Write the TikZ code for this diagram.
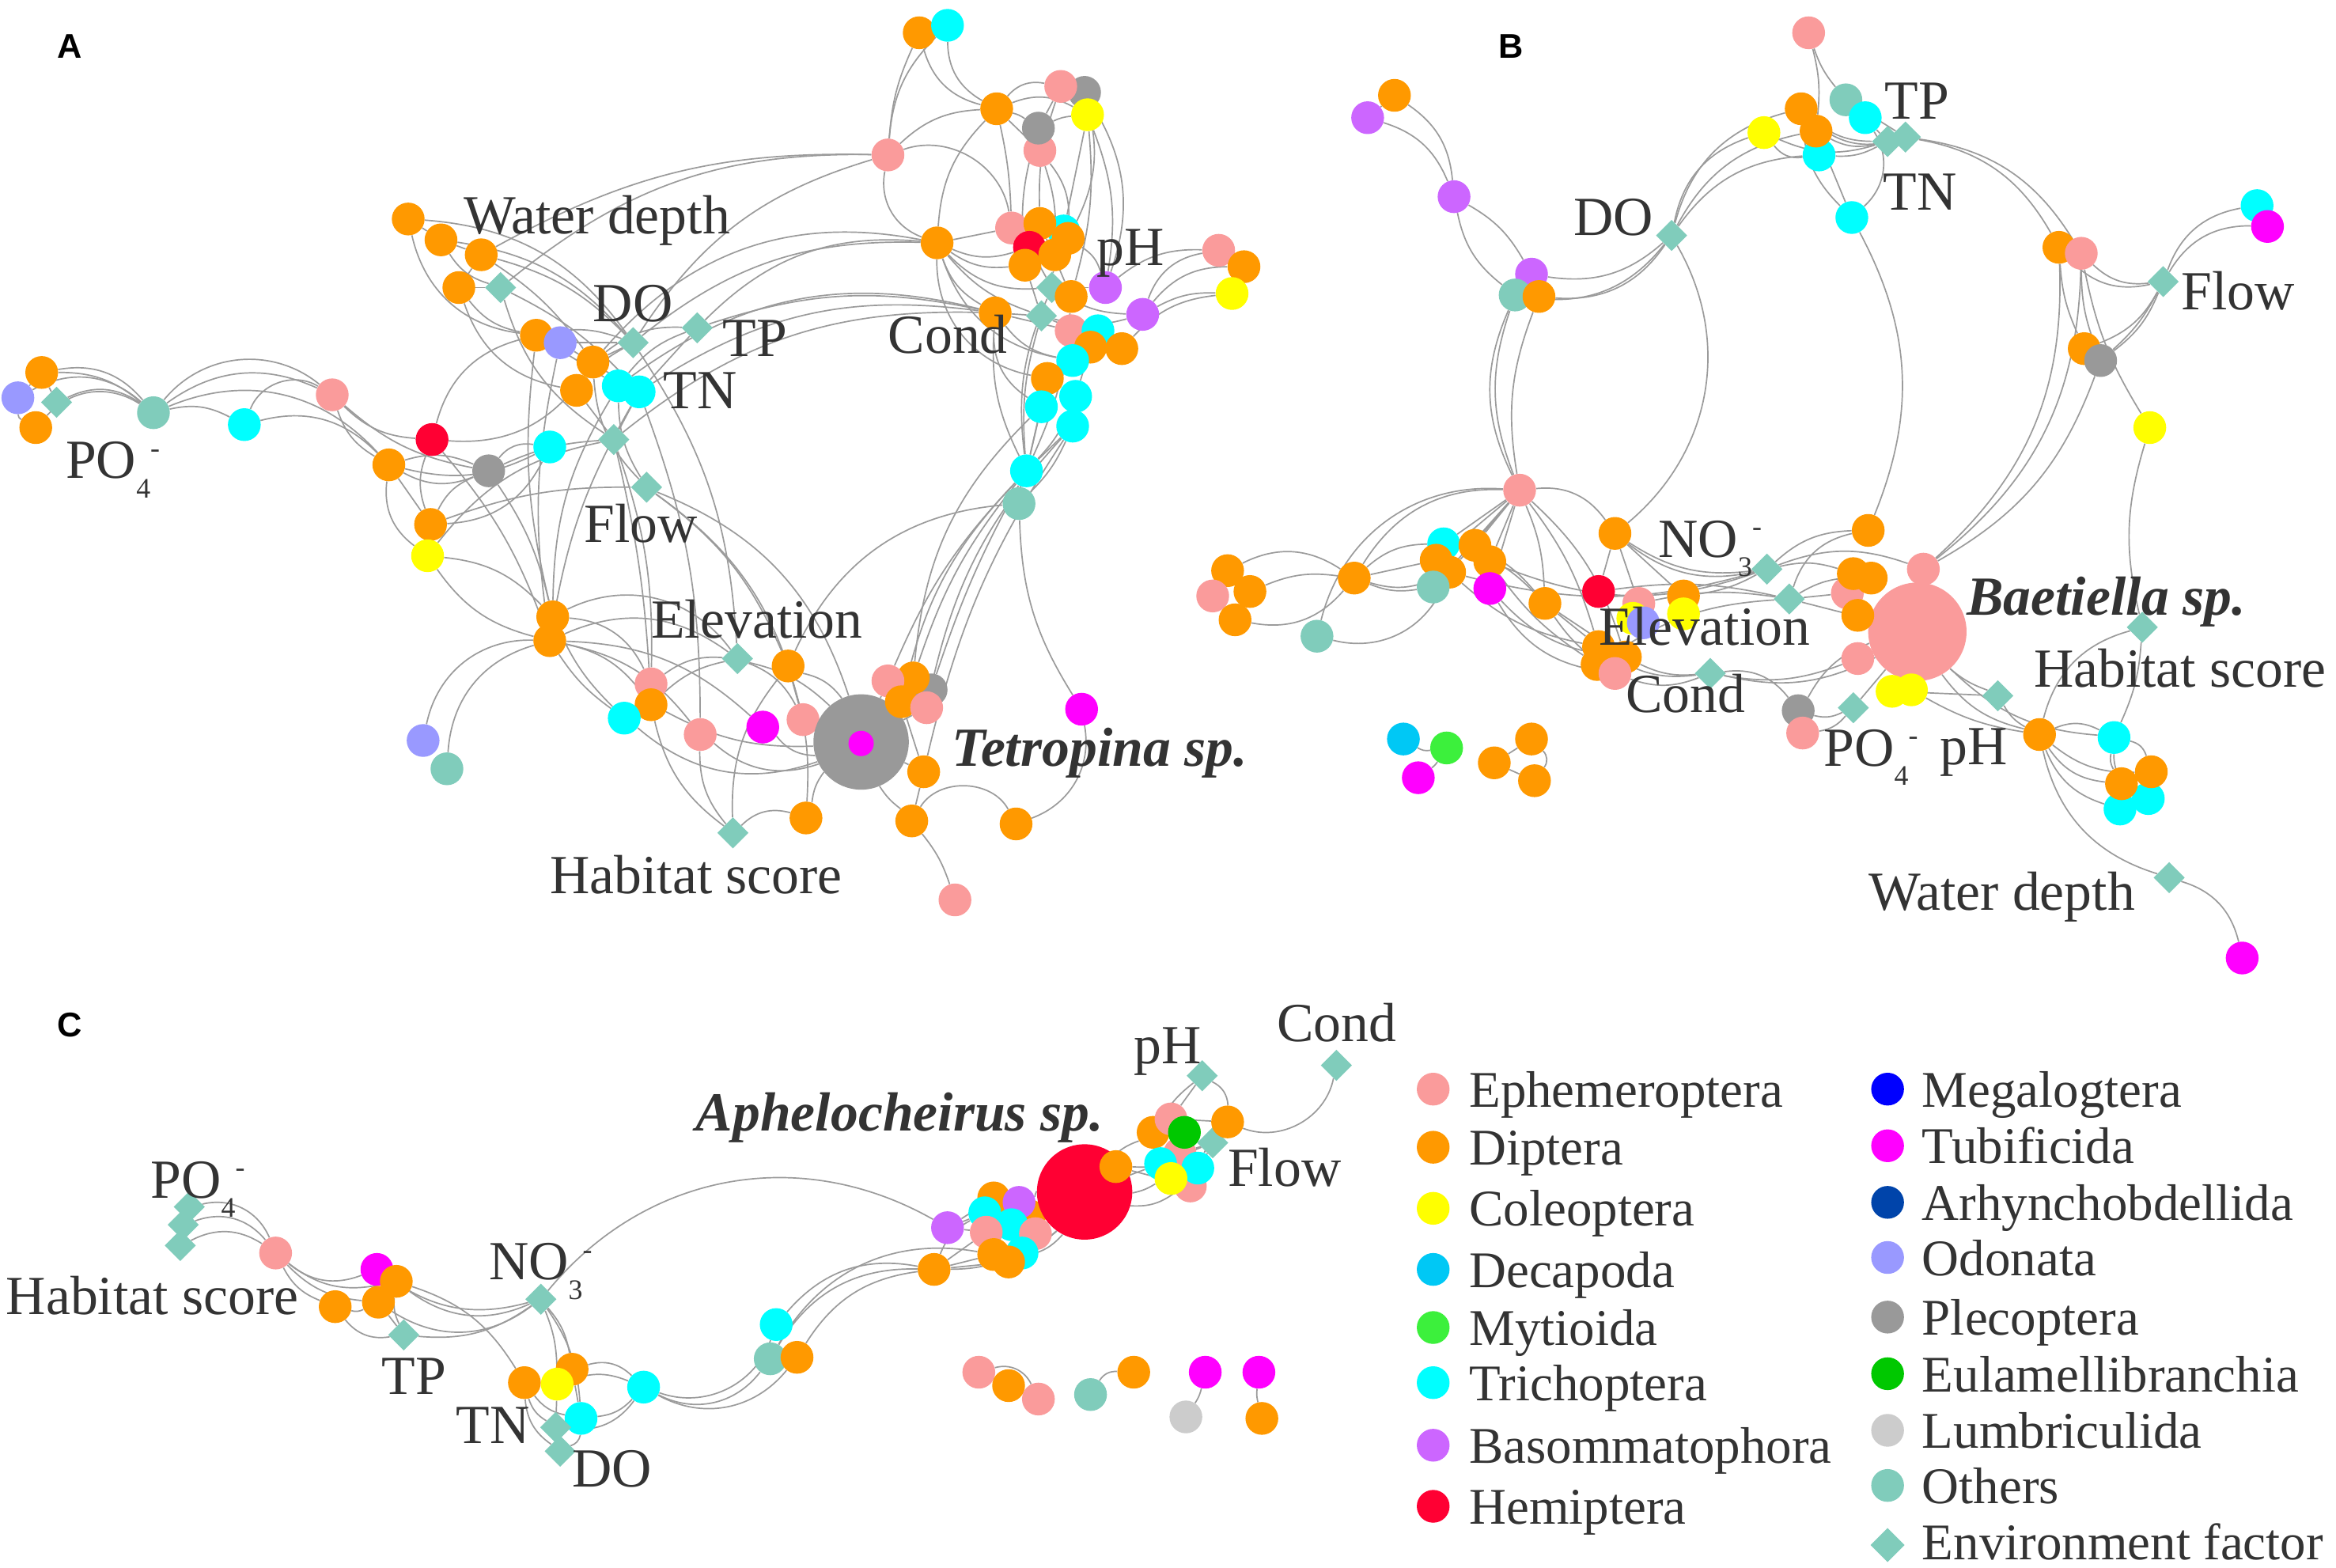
\documentclass[tikz,border=0pt]{standalone}
\usepackage{fontspec}
\setmainfont{Liberation Serif}
\newfontfamily\panelfont{Liberation Sans}
\usetikzlibrary{shapes.geometric}
\definecolor{ceph}{RGB}{250,155,155}
\definecolor{cdip}{RGB}{255,153,0}
\definecolor{ccol}{RGB}{255,255,0}
\definecolor{cdec}{RGB}{0,200,245}
\definecolor{cmyt}{RGB}{60,240,60}
\definecolor{ctri}{RGB}{0,255,255}
\definecolor{cbas}{RGB}{204,102,255}
\definecolor{chem}{RGB}{255,0,51}
\definecolor{cmeg}{RGB}{0,0,255}
\definecolor{ctub}{RGB}{255,0,255}
\definecolor{carh}{RGB}{0,68,170}
\definecolor{codo}{RGB}{153,153,255}
\definecolor{cple}{RGB}{153,153,153}
\definecolor{ceul}{RGB}{0,200,0}
\definecolor{clum}{RGB}{204,204,204}
\definecolor{coth}{RGB}{128,204,187}
\definecolor{edgec}{RGB}{155,155,155}
\definecolor{labc}{RGB}{51,51,51}
\newcommand\labfnt{\fontsize{37}{40}\selectfont}
\newcommand\spfnt{\fontsize{37}{40}\selectfont\bfseries\itshape}
\newcommand\legfnt{\fontsize{34.5}{38}\selectfont}
\newcommand\chsub[1]{\raisebox{-13pt}{\fontsize{19}{19}\selectfont #1}}
\newcommand\chsup[1]{\raisebox{14pt}{\fontsize{19}{19}\selectfont #1}}
\pgfdeclarelayer{edgelayer}
\pgfsetlayers{edgelayer,main}
\tikzset{
  nd/.style={circle,inner sep=0pt,minimum size=22pt,draw=none},
  sEph/.style={nd,fill=ceph}, sDip/.style={nd,fill=cdip}, sCol/.style={nd,fill=ccol},
  sDec/.style={nd,fill=cdec}, sMyt/.style={nd,fill=cmyt}, sTri/.style={nd,fill=ctri},
  sBas/.style={nd,fill=cbas}, sHem/.style={nd,fill=chem}, sMeg/.style={nd,fill=cmeg},
  sTub/.style={nd,fill=ctub}, sArh/.style={nd,fill=carh}, sOdo/.style={nd,fill=codo},
  sPle/.style={nd,fill=cple}, sEul/.style={nd,fill=ceul}, sLum/.style={nd,fill=clum},
  sOth/.style={nd,fill=coth},
  sEnv/.style={diamond,inner sep=0pt,minimum size=21pt,fill=coth,draw=none},
  bigsp/.style={minimum size=64pt},
  lab/.style={font=\labfnt,text=labc,inner sep=0pt,anchor=base west},
  splab/.style={font=\spfnt,text=labc,inner sep=0pt,anchor=base west},
  leg/.style={font=\legfnt,text=labc,inner sep=0pt,anchor=base west},
  panel/.style={font=\panelfont\bfseries\fontsize{23}{23}\selectfont,text=black,inner sep=0pt},
  BL/.style={bend left=#1}, BL/.default=30,
  BR/.style={bend right=#1}, BR/.default=30,
  edges/.style={every edge/.style={draw=edgec,line width=0.9pt}}
}
\begin{document}
\begin{tikzpicture}[x=1pt,y=-1pt]
\useasboundingbox (0,0) rectangle (1568,1052);

% ================= PANEL A =================
\node[panel] (pA) at (47,31) {A};
\node[sDip] (aO1) at (28,250) {};
\node[sOdo] (aOd1) at (12,267) {};
\node[sDip] (aO2) at (24,287) {};
\node[sEnv] (aE1) at (38,270) {};
\node[sOth] (aT1) at (103,277) {};
\node[sTri] (aC1) at (164,285) {};
\node[sEph] (aP1) at (223,265) {};
\node[sHem] (aR1) at (290,295) {};
\node[sDip] (aO3) at (261,312) {};
\node[sPle] (aG1) at (328,316) {};
\node[sTri] (aC2) at (369,300) {};
\node[sDip] (aO4) at (289,352) {};
\node[sCol] (aY1) at (287,373) {};
\node[sDip] (aO5) at (274,147) {};
\node[sDip] (aO6) at (296,161) {};
\node[sDip] (aO7) at (323,171) {};
\node[sDip] (aO8) at (308,193) {};
\node[sEnv] (aEwd) at (336,193) {};
\node[sDip] (aO9) at (360,225) {};
\node[sOdo] (aOd2) at (376,230) {};
\node[sDip] (aO10) at (398,243) {};
\node[sDip] (aO11) at (387,262) {};
\node[sEnv] (aEdo) at (425,230) {};
\node[sTri] (aC3) at (415,259) {};
\node[sTri] (aC4) at (429,263) {};
\node[sEnv] (aEtp) at (468,220) {};
\node[sEnv] (aEtn) at (412,295) {};
\node[sEnv] (aEfl) at (434,327) {};
\node[sDip] (aO12) at (371,414) {};
\node[sDip] (aO13) at (369,430) {};
\node[sOdo] (aOd3) at (284,497) {};
\node[sOth] (aT2) at (300,516) {};
\node[sEnv] (aEel) at (495,442) {};
\node[sDip] (aO14) at (529,447) {};
\node[sEph] (aP2) at (437,459) {};
\node[sDip] (aO15) at (437,473) {};
\node[sTri] (aC5) at (419,482) {};
\node[sEph] (aP3) at (470,493) {};
\node[sTub] (aM1) at (512,488) {};
\node[sEph] (aP4) at (539,483) {};
\node[sPle,bigsp] (aBig) at (578,498) {};
\node[sTub,minimum size=17pt] (aMin) at (578,499) {};
\node[sPle] (aG2) at (625,463) {};
\node[sDip] (aO16) at (613,455) {};
\node[sEph] (aP5) at (596,457) {};
\node[sDip] (aO17) at (605,471) {};
\node[sEph] (aP6) at (622,475) {};
\node[sDip] (aO18) at (620,518) {};
\node[sDip] (aO19) at (541,549) {};
\node[sEnv] (aEhs) at (492,559) {};
\node[sDip] (aO20) at (612,551) {};
\node[sDip] (aO21) at (682,553) {};
\node[sEph] (aP7) at (641,604) {};
\node[sTub] (aM2) at (726,476) {};
\node[sDip] (aO22) at (617,22) {};
\node[sTri] (aC6) at (636,17) {};
\node[sEph] (aP10) at (596,104) {};
\node[sDip] (aO23) at (669,73) {};
\node[sPle] (aG3) at (728,62) {};
\node[sEph] (aP8) at (712,58) {};
\node[sCol] (aY2) at (730,77) {};
\node[sEph] (aP9) at (698,101) {};
\node[sPle] (aG4) at (697,86) {};
\node[sDip] (aO24) at (629,163) {};
\node[sTri] (aC7) at (714,155) {};
\node[sEph] (aP11) at (679,153) {};
\node[sDip] (aO25) at (698,150) {};
\node[sHem] (aR2) at (691,166) {};
\node[sDip] (aO26) at (717,160) {};
\node[sDip] (aO27) at (708,171) {};
\node[sDip] (aO28) at (688,178) {};
\node[sEnv] (aEph) at (706,193) {};
\node[sEnv] (aEco) at (699,212) {};
\node[sDip] (aO29) at (719,199) {};
\node[sBas] (aB1) at (742,193) {};
\node[sBas] (aB2) at (767,211) {};
\node[sDip] (aO30) at (668,210) {};
\node[sEph] (aP12) at (719,222) {};
\node[sTri] (aC8) at (737,222) {};
\node[sDip] (aO31) at (732,233) {};
\node[sDip] (aO32) at (753,234) {};
\node[sTri] (aC9) at (720,242) {};
\node[sDip] (aO33) at (703,254) {};
\node[sTri] (aC10) at (722,266) {};
\node[sTri] (aC11) at (699,273) {};
\node[sTri] (aC12) at (720,286) {};
\node[sTri] (aC13) at (689,316) {};
\node[sOth] (aT3) at (684,338) {};
\node[sEph] (aP13) at (818,168) {};
\node[sDip] (aO34) at (835,179) {};
\node[sCol] (aY3) at (827,197) {};

\node[lab] (aLwd) at (311,157) {Water depth};
\node[lab] (aLdo) at (398,216) {DO};
\node[lab] (aLtp) at (485,239) {TP};
\node[lab] (aLtn) at (445,274) {TN};
\node[lab] (aLpo) at (44,321) {PO\chsub{4}\chsup{-}};
\node[lab] (aLfl) at (392,364) {Flow};
\node[lab] (aLco) at (596,237) {Cond};
\node[lab] (aLph) at (736,178) {pH};
\node[lab] (aLel) at (437,428) {Elevation};
\node[lab] (aLhs) at (369,600) {Habitat score};
\node[splab] (aLsp) at (639,514) {Tetropina sp.};

% ================= PANEL B =================
\node[panel] (pB) at (1014,31) {B};
\node[sDip] (bO1) at (936,64) {};
\node[sBas] (bB1) at (918,79) {};
\node[sBas] (bB2) at (976,132) {};
\node[sBas] (bB3) at (1028,184) {};
\node[sOth] (bT1) at (1017,198) {};
\node[sDip] (bO2) at (1033,199) {};
\node[sEnv] (bEdo) at (1122,158) {};
\node[sEph] (bP1) at (1214,22) {};
\node[sDip] (bO3) at (1209,73) {};
\node[sOth] (bT2) at (1239,67) {};
\node[sTri] (bC1) at (1252,79) {};
\node[sCol] (bY1) at (1184,89) {};
\node[sTri] (bC2) at (1221,104) {};
\node[sDip] (bO4) at (1219,88) {};
\node[sEnv] (bEtp1) at (1267,95) {};
\node[sEnv] (bEtp2) at (1279,92) {};
\node[sTri] (bC3) at (1243,146) {};
\node[sDip] (bO5) at (1382,166) {};
\node[sEph] (bP2) at (1397,170) {};
\node[sEnv] (bEfl) at (1452,189) {};
\node[sTri] (bC4) at (1515,138) {};
\node[sTub] (bM1) at (1522,152) {};
\node[sDip] (bO6) at (1399,234) {};
\node[sPle] (bG1) at (1410,242) {};
\node[sCol] (bY2) at (1443,287) {};
\node[sEph] (bP3) at (1020,329) {};
\node[sDip] (bO7) at (824,383) {};
\node[sEph] (bP4) at (814,400) {};
\node[sDip] (bO8) at (839,397) {};
\node[sDip] (bO9) at (829,416) {};
\node[sDip] (bO10) at (909,388) {};
\node[sOth] (bT3) at (884,427) {};
\node[sTri] (bC5) at (969,365) {};
\node[sDip] (bO11) at (990,366) {};
\node[sDip] (bO12) at (964,376) {};
\node[sDip] (bO13) at (1000,377) {};
\node[sDip] (bO14) at (973,384) {};
\node[sOth] (bT4) at (962,394) {};
\node[sTub] (bM2) at (1000,395) {};
\node[sDip] (bO15) at (1037,405) {};
\node[sHem] (bR1) at (1073,397) {};
\node[sDip] (bO16) at (1084,358) {};
\node[sEph] (bP5) at (1100,405) {};
\node[sCol] (bY3) at (1096,415) {};
\node[sOdo] (bOd1) at (1103,418) {};
\node[sDip] (bO17) at (1130,400) {};
\node[sCol] (bY4) at (1130,412) {};
\node[sDip] (bO20) at (1072,446) {};
\node[sDip] (bO18) at (1073,434) {};
\node[sDip] (bO19) at (1091,441) {};
\node[sEph] (bP6) at (1084,452) {};
\node[sEnv] (bEno) at (1186,382) {};
\node[sEnv] (bEel) at (1201,402) {};
\node[sEnv] (bEco) at (1148,452) {};
\node[sPle] (bG2) at (1207,477) {};
\node[sEph] (bP7) at (1210,492) {};
\node[sEnv] (bEpo) at (1244,475) {};
\node[sEph,minimum size=66pt] (bBig) at (1287,424) {};
\node[sDip] (bO21) at (1254,356) {};
\node[sEph] (bP8) at (1291,382) {};
\node[sEph] (bP9) at (1240,398) {};
\node[sDip] (bO22) at (1244,385) {};
\node[sDip] (bO23) at (1256,388) {};
\node[sDip] (bO24) at (1247,413) {};
\node[sEph] (bP10) at (1247,442) {};
\node[sCol] (bY5) at (1270,464) {};
\node[sCol] (bY6) at (1283,463) {};
\node[sEnv] (bEph) at (1341,467) {};
\node[sDip] (bO25) at (1369,493) {};
\node[sEnv] (bEhs) at (1438,421) {};
\node[sTri] (bC6) at (1419,495) {};
\node[sTri] (bC7) at (1442,536) {};
\node[sTri] (bC8) at (1423,543) {};
\node[sDip] (bO26) at (1444,518) {};
\node[sDip] (bO27) at (1424,526) {};
\node[sEnv] (bEwd) at (1456,589) {};
\node[sTub] (bM3) at (1505,643) {};
\node[sDec] (bDe) at (942,496) {};
\node[sMyt] (bMy) at (971,502) {};
\node[sTub] (bM4) at (952,522) {};
\node[sDip] (bO28) at (1028,496) {};
\node[sDip] (bO29) at (1003,512) {};
\node[sDip] (bO30) at (1030,524) {};

\node[lab] (bLdo) at (1056,158) {DO};
\node[lab] (bLtp) at (1265,80) {TP};
\node[lab] (bLtn) at (1264,141) {TN};
\node[lab] (bLfl) at (1464,208) {Flow};
\node[lab] (bLno) at (1113,374) {NO\chsub{3}\chsup{-}};
\node[lab] (bLel) at (1073,433) {Elevation};
\node[lab] (bLco) at (1091,478) {Cond};
\node[lab] (bLpo) at (1224,514) {PO\chsub{4}\chsup{-}};
\node[lab] (bLph) at (1302,513) {pH};
\node[lab] (bLhs) at (1365,461) {Habitat score};
\node[lab] (bLwd) at (1254,611) {Water depth};
\node[splab] (bLsp) at (1320,413) {Baetiella sp.};

% ================= PANEL C =================
\node[panel] (pC) at (47,688) {C};
\node[sEnv] (cE1) at (127,810) {};
\node[sEnv] (cE2) at (123,822) {};
\node[sEnv] (cE3) at (121,836) {};
\node[sEph] (cP1) at (185,841) {};
\node[sTub] (cM1) at (253,852) {};
\node[sDip] (cO1) at (266,860) {};
\node[sDip] (cO2) at (254,874) {};
\node[sDip] (cO3) at (225,877) {};
\node[sEnv] (cEtp) at (271,896) {};
\node[sEnv] (cEno) at (363,872) {};
\node[sDip] (cO4) at (352,928) {};
\node[sDip] (cO5) at (384,919) {};
\node[sCol] (cY1) at (374,929) {};
\node[sTri] (cC1) at (390,952) {};
\node[sEnv] (cEtn) at (373,958) {};
\node[sEnv] (cEdo) at (376,974) {};
\node[sTri] (cC2) at (432,931) {};
\node[sTri] (cC3) at (521,889) {};
\node[sOth] (cT1) at (517,912) {};
\node[sDip] (cO6) at (535,911) {};
\node[sBas] (cB1) at (636,824) {};
\node[sDip] (cO7) at (627,852) {};
\node[sDip] (cO8) at (667,804) {};
\node[sTri] (cC4) at (661,814) {};
\node[sDip] (cO9) at (691,816) {};
\node[sBas] (cB2) at (684,807) {};
\node[sTri] (cC5) at (679,822) {};
\node[sEph] (cP2) at (662,827) {};
\node[sEph] (cP3) at (695,828) {};
\node[sTri] (cC6) at (686,841) {};
\node[sDip] (cO10) at (667,842) {};
\node[sDip] (cO11) at (677,847) {};
\node[sHem,bigsp] (cBig) at (728,800) {};
\node[sDip] (cO12) at (749,783) {};
\node[sDip] (cO13) at (774,760) {};
\node[sEph] (cP4) at (786,751) {};
\node[sEph] (cP6) at (799,796) {};
\node[sEph] (cP5) at (792,774) {};
\node[sTri] (cC7) at (779,781) {};
\node[sTri] (cC8) at (804,784) {};
\node[sCol] (cY2) at (786,791) {};
\node[sEul] (cEu) at (795,760) {};
\node[sEnv] (cEfl) at (814,767) {};
\node[sDip] (cO14) at (824,753) {};
\node[sEnv] (cEph) at (807,722) {};
\node[sEnv] (cEco) at (897,715) {};
\node[sEph] (cP7) at (657,921) {};
\node[sDip] (cO15) at (677,930) {};
\node[sEph] (cP8) at (697,939) {};
\node[sOth] (cT2) at (732,936) {};
\node[sDip] (cO16) at (761,921) {};
\node[sTub] (cM2) at (809,921) {};
\node[sLum] (cLu) at (796,951) {};
\node[sTub] (cM3) at (845,921) {};
\node[sDip] (cO17) at (847,952) {};

\node[lab] (cLpo) at (101,804) {PO\chsub{4}\chsup{-}};
\node[lab] (cLhs) at (4,882) {Habitat score};
\node[lab] (cLno) at (328,859) {NO\chsub{3}\chsup{-}};
\node[lab] (cLtp) at (256,936) {TP};
\node[lab] (cLtn) at (306,969) {TN};
\node[lab] (cLdo) at (384,998) {DO};
\node[lab] (cLph) at (761,714) {pH};
\node[lab] (cLco) at (857,699) {Cond};
\node[lab] (cLfl) at (824,796) {Flow};
\node[splab] (cLsp) at (467,759) {Aphelocheirus sp.};

% ================= LEGEND =================
\node[sEph] (lg1) at (962,731) {};  \node[leg] (lt1) at (986,743) {Ephemeroptera};
\node[sDip] (lg2) at (962,770) {};  \node[leg] (lt2) at (986,782) {Diptera};
\node[sCol] (lg3) at (962,811) {};  \node[leg] (lt3) at (986,823) {Coleoptera};
\node[sDec] (lg4) at (962,852) {};  \node[leg] (lt4) at (986,864) {Decapoda};
\node[sMyt] (lg5) at (962,891) {};  \node[leg] (lt5) at (986,903) {Mytioida};
\node[sTri] (lg6) at (962,928) {};  \node[leg] (lt6) at (986,940) {Trichoptera};
\node[sBas] (lg7) at (962,970) {};  \node[leg] (lt7) at (986,982) {Basommatophora};
\node[sHem] (lg8) at (962,1011) {}; \node[leg] (lt8) at (986,1023) {Hemiptera};
\node[sMeg] (lg9) at (1267,731) {};  \node[leg] (lt9) at (1290,743) {Megalogtera};
\node[sTub] (lg10) at (1267,769) {}; \node[leg] (lt10) at (1290,781) {Tubificida};
\node[sArh] (lg11) at (1267,807) {}; \node[leg] (lt11) at (1290,819) {Arhynchobdellida};
\node[sOdo] (lg12) at (1267,844) {}; \node[leg] (lt12) at (1290,856) {Odonata};
\node[sPle] (lg13) at (1267,884) {}; \node[leg] (lt13) at (1290,896) {Plecoptera};
\node[sEul] (lg14) at (1267,922) {}; \node[leg] (lt14) at (1290,934) {Eulamellibranchia};
\node[sLum] (lg15) at (1267,960) {}; \node[leg] (lt15) at (1290,972) {Lumbriculida};
\node[sOth] (lg16) at (1267,997) {}; \node[leg] (lt16) at (1290,1009) {Others};
\node[sEnv,minimum size=23pt] (lg17) at (1267,1037) {}; \node[leg] (lt17) at (1290,1047) {Environment factor};

% ================= EDGES =================
\begin{pgfonlayer}{edgelayer}
\fill[white] (0,0) rectangle (1568,1052);
\path[edges]
 % A left
 (aO1) edge[BL=30] (aT1) (aOd1) edge[BL=35] (aT1) (aE1) edge[BL=30] (aT1) (aO2) edge[BL=40] (aT1)
 (aO1) edge (aOd1) (aOd1) edge[BR=30] (aO2) (aO1) edge (aE1) (aO1) edge[BL=20] (aT1)
 (aT1) edge[BL=45] (aP1) (aT1) edge[BL=30] (aP1) (aT1) edge[BL=20] (aC1)
 (aC1) edge[BL=50] (aP1) (aC1) edge[BL=30] (aO3) (aT1) edge[BL=35] (aO3)
 (aP1) edge[BR=20] (aR1) (aP1) edge[BR=20] (aO3) (aP1) edge[BR=15] (aG1)
 (aR1) edge[BR=30] (aO10) (aR1) edge[BL=30] (aO9) (aR1) edge[BR=20] (aO4) (aR1) edge[BL=10] (aO13)
 (aO3) edge[BR=25] (aG1) (aO3) edge (aO4) (aO3) edge[BR=20] (aC2) (aO3) edge[BR=30] (aY1) (aO3) edge[BL=20] (aG1)
 (aG1) edge[BL=30] (aC2) (aG1) edge[BR=20] (aO4) (aG1) edge[BL=10] (aEtn) (aG1) edge[BL=10] (aO12)
 (aO4) edge[BR=30] (aC2) (aO4) edge (aY1) (aO4) edge[BL=10] (aEfl)
 (aY1) edge[BL=20] (aO12) (aY1) edge[BL=20] (aEtn) (aY1) edge[BR=20] (aO13)
 % water depth
 (aO5) edge (aO6) (aO5) edge[BL=25] (aEdo) (aO6) edge (aO7) (aO6) edge[BR=20] (aEwd)
 (aO7) edge (aO8) (aO8) edge (aEwd) (aO7) edge[BL=15] (aEdo) (aO5) edge[BR=35] (aO9)
 (aO8) edge[BR=20] (aO9) (aO7) edge[BL=10] (aO10) (aO6) edge[BL=20] (aEdo) (aO8) edge[BR=30] (aO11)
 (aO9) edge[BL=15] (aEdo) (aOd2) edge (aEdo) (aO10) edge (aEdo) (aO11) edge (aEtn)
 (aO9) edge (aC3) (aOd2) edge (aC4) (aC3) edge[BL=15] (aEtp) (aC4) edge (aEtp)
 (aO10) edge[BL=20] (aEtp) (aO11) edge[BL=10] (aEdo) (aEwd) edge[BL=10] (aC4) (aEwd) edge[BR=20] (aEtn)
 (aO10) edge[BR=20] (aEfl) (aC3) edge[BR=15] (aEfl) (aC4) edge (aEtn)
 % long arcs to top-right
 (aEdo) edge[BL=20] (aO24) (aEdo) edge[BL=20] (aP10) (aEtp) edge[BL=15] (aO30) (aC4) edge[BL=20] (aO30)
 (aEtp) edge[BL=25] (aO24) (aO10) edge[BL=30] (aO24) (aEwd) edge[BL=20] (aP10) (aO7) edge[BL=15] (aP10)
 (aC3) edge[BL=25] (aO30) (aEtn) edge[BL=20] (aO30)
 % down
 (aO9) edge[BR=10] (aO12) (aOd2) edge[BR=10] (aO13) (aC3) edge[BR=15] (aO12) (aC4) edge[BR=10] (aO13)
 (aEtn) edge[BL=10] (aP2) (aEtn) edge[BL=5] (aO15) (aEfl) edge[BL=25] (aBig) (aEfl) edge[BL=20] (aP4)
 (aEdo) edge[BL=15] (aEel) (aC4) edge[BL=10] (aP3) (aEfl) edge[BL=15] (aO14)
 (aO12) edge[BL=30] (aP2) (aO13) edge[BL=20] (aO15) (aO13) edge[BR=10] (aC5) (aO13) edge[BL=20] (aP3)
 (aO12) edge[BL=40] (aEel) (aO13) edge[BL=30] (aEel) (aO13) edge[BL=20] (aM1)
 (aOd3) edge[BL=40] (aO13) (aT2) edge[BL=35] (aO13) (aO12) edge[BR=10] (aC5)
 (aEel) edge[BR=20] (aP2) (aEel) edge[BR=15] (aO15) (aEel) edge[BL=20] (aP4) (aEel) edge[BL=15] (aBig)
 (aO14) edge[BL=20] (aBig) (aO14) edge[BR=20] (aEhs) (aO14) edge[BL=10] (aO19) (aO14) edge (aP4)
 (aP3) edge[BR=30] (aBig) (aM1) edge[BR=25] (aBig) (aP4) edge (aBig) (aC5) edge[BR=30] (aBig) (aO15) edge[BR=15] (aBig)
 (aP3) edge[BR=20] (aEhs) (aEhs) edge[BL=30] (aO19) (aEhs) edge[BL=20] (aO15)
 (aBig) edge[BR=15] (aO19) (aBig) edge[BR=10] (aO20) (aBig) edge (aP5) (aBig) edge (aO16) (aBig) edge (aG2)
 (aBig) edge (aP6) (aBig) edge (aO18) (aO20) edge[BL=60] (aO21) (aO20) edge[BL=10] (aP7) (aO18) edge (aO20)
 (aO17) edge (aO18) (aO21) edge[BR=40] (aM2) (aM2) edge[BL=15] (aT3)
 (aC13) edge[BR=10] (aP5) (aC13) edge[BR=10] (aO16) (aC13) edge[BR=5] (aG2) (aC12) edge[BR=15] (aP6)
 (aC11) edge[BR=20] (aO16) (aT3) edge[BR=30] (aO14) (aC12) edge[BR=10] (aO18) (aC13) edge[BR=15] (aO17)
 % top right internal
 (aO22) edge[BR=30] (aO23) (aC6) edge[BR=30] (aO23) (aO22) edge[BR=10] (aP10) (aC6) edge[BR=20] (aP10)
 (aP10) edge[BL=20] (aO23) (aP10) edge[BR=40] (aO24) (aP10) edge[BL=50] (aP11)
 (aO23) edge[BL=10] (aG4) (aO23) edge[BL=30] (aP8) (aO23) edge[BL=25] (aY2) (aO23) edge (aP9)
 (aO23) edge[BR=20] (aO24) (aO23) edge[BL=5] (aP11)
 (aP8) edge (aY2) (aG3) edge (aY2) (aG4) edge[BL=10] (aY2) (aP8) edge (aG4)
 (aY2) edge[BL=10] (aO29) (aY2) edge[BL=15] (aB1) (aG3) edge[BL=20] (aO26) (aP8) edge[BR=10] (aO25)
 (aG4) edge[BR=10] (aO28) (aP9) edge[BL=10] (aO27) (aP9) edge[BL=20] (aO26) (aY2) edge (aC7) (aG3) edge[BL=25] (aB1)
 (aO24) edge[BR=20] (aR2) (aO24) edge[BR=20] (aO28) (aO24) edge[BR=25] (aEph) (aO24) edge[BR=15] (aEco)
 (aO24) edge[BR=20] (aO30) (aO24) edge (aP11) (aO24) edge[BR=30] (aC9) (aO24) edge[BR=40] (aO33)
 (aR2) edge (aEph) (aO28) edge (aEco) (aO27) edge (aEph) (aO26) edge[BL=20] (aB1) (aO25) edge (aO29)
 (aEph) edge (aB1) (aEph) edge[BR=15] (aB2) (aEco) edge[BR=15] (aB2) (aEco) edge (aO32)
 (aB1) edge[BL=20] (aP13) (aB2) edge[BL=25] (aO34) (aB2) edge[BL=15] (aY3) (aB2) edge[BL=30] (aP13) (aO32) edge[BL=20] (aY3)
 (aO30) edge (aEco) (aO30) edge (aP12) (aO30) edge[BR=20] (aC9) (aO30) edge[BR=30] (aC11)
 (aC13) edge[BL=10] (aEco) (aC13) edge[BL=15] (aEph) (aC13) edge (aO33) (aC13) edge (aC11) (aC13) edge[BR=10] (aC10)
 (aC13) edge[BL=15] (aO30) (aC13) edge (aC12) (aT3) edge (aC13) (aC12) edge (aC10) (aC11) edge (aC9)
 (aC10) edge (aO31) (aC9) edge (aO32) (aC13) edge[BR=10] (aO29) (aT3) edge[BR=10] (aC12)
 % ===== B =====
 (bO1) edge (bB1) (bO1) edge[BL=25] (bB2) (bB1) edge[BL=25] (bB2) (bB2) edge[BL=15] (bB3) (bB2) edge[BR=20] (bT1)
 (bB3) edge[BR=25] (bEdo) (bT1) edge[BR=30] (bEdo) (bO2) edge[BR=30] (bEdo) (bB3) edge (bT1)
 (bT1) edge[BR=20] (bP3) (bO2) edge[BR=15] (bP3) (bT1) edge[BR=25] (bP3)
 (bEdo) edge[BL=30] (bY1) (bEdo) edge[BL=30] (bO3) (bEdo) edge[BL=25] (bO4) (bEdo) edge[BL=25] (bC2) (bEdo) edge[BL=40] (bO16)
 (bC3) edge[BL=25] (bO21) (bC3) edge[BL=20] (bO3) (bC3) edge[BR=40] (bC1) (bO4) edge (bC3)
 (bP1) edge[BL=10] (bO4) (bP1) edge[BR=10] (bT2)
 (bY1) edge[BR=20] (bEtp1) (bO3) edge[BR=20] (bEtp1) (bO4) edge[BR=20] (bEtp1) (bC2) edge[BR=15] (bEtp1)
 (bT2) edge (bEtp2) (bC1) edge (bEtp1) (bY1) edge[BR=30] (bC2) (bO3) edge[BR=30] (bEtp2)
 (bEtp2) edge[BL=25] (bO5) (bEtp2) edge[BL=25] (bP2)
 (bO5) edge[BL=25] (bP8) (bP2) edge[BL=25] (bP8) (bG1) edge[BL=20] (bP8)
 (bO5) edge[BR=10] (bO6) (bP2) edge[BR=10] (bG1) (bP2) edge[BR=25] (bEfl) (bO5) edge[BR=30] (bEfl)
 (bEfl) edge[BL=30] (bC4) (bEfl) edge[BL=30] (bM1) (bEfl) edge[BL=15] (bG1) (bEfl) edge[BL=20] (bO6) (bEfl) edge[BL=10] (bG1)
 (bP2) edge[BR=10] (bY2) (bY2) edge[BR=15] (bEhs)
 (bP3) edge (bC5) (bP3) edge (bO11) (bP3) edge (bO12) (bP3) edge (bO13) (bP3) edge (bO14) (bP3) edge (bM2)
 (bP3) edge[BL=10] (bO15) (bP3) edge[BL=30] (bO16) (bP3) edge[BR=30] (bO10) (bP3) edge (bT4) (bP3) edge[BL=10] (bO18)
 (bP3) edge[BL=15] (bO19) (bP3) edge[BR=40] (bT3)
 (bO7) edge (bP4) (bO7) edge (bO8) (bP4) edge (bO9) (bO8) edge (bO9) (bO7) edge[BL=30] (bO10) (bO8) edge[BL=15] (bO10)
 (bO9) edge[BR=30] (bO10) (bO10) edge (bO12) (bO10) edge[BR=15] (bT4) (bO10) edge[BR=20] (bO14) (bT3) edge[BR=40] (bO14) (bO10) edge[BL=20] (bC5)
 (bC5) edge[BL=15] (bO15) (bO11) edge[BL=10] (bO15) (bO13) edge[BR=10] (bO20) (bO14) edge[BR=15] (bO18) (bM2) edge[BR=20] (bO19)
 (bM2) edge[BR=25] (bP6) (bO15) edge (bO18) (bO15) edge (bO19) (bO15) edge[BR=10] (bP6)
 (bO16) edge[BR=25] (bEno) (bO16) edge (bR1) (bO16) edge (bP5) (bO16) edge (bO17) (bO16) edge[BR=20] (bEno)
 (bEno) edge[BL=20] (bP8) (bEno) edge[BL=15] (bO22) (bEno) edge[BL=20] (bO21) (bEno) edge[BL=20] (bO13) (bEno) edge[BL=15] (bO14)
 (bEel) edge (bP9) (bEel) edge (bBig) (bEel) edge[BL=15] (bO23) (bEel) edge[BL=30] (bO21) (bEel) edge[BR=10] (bR1) (bEel) edge[BR=15] (bO20)
 (bEel) edge[BR=10] (bP5) (bEno) edge[BL=10] (bO17)
 (bEco) edge[BL=15] (bO19) (bEco) edge[BL=20] (bP6) (bEco) edge[BR=20] (bBig) (bEco) edge[BL=20] (bO18) (bEco) edge[BL=30] (bG2) (bEco) edge[BR=15] (bP10)
 (bG2) edge[BR=20] (bP7) (bG2) edge[BL=20] (bBig) (bP7) edge[BR=20] (bEpo) (bEpo) edge (bBig) (bG2) edge[BR=20] (bEpo)
 (bBig) edge[BR=10] (bEph) (bBig) edge[BR=20] (bO25) (bBig) edge[BR=20] (bC6) (bY5) edge (bEph) (bY6) edge[BR=10] (bO25)
 (bEph) edge[BR=15] (bO25) (bO25) edge[BL=30] (bEhs) (bO25) edge[BL=25] (bC6) (bO25) edge[BR=25] (bO27) (bO25) edge[BR=25] (bC8)
 (bO25) edge[BR=30] (bEwd) (bO25) edge[BR=20] (bO26) (bEwd) edge[BL=30] (bM3)
 (bC6) edge[BL=30] (bO26) (bC6) edge[BR=30] (bC7) (bC6) edge[BR=20] (bO27) (bEhs) edge[BL=10] (bC6)
 (bDe) edge[BR=20] (bMy) (bMy) edge[BL=10] (bM4) (bO28) edge (bO29) (bO29) edge (bO30) (bO28) edge[BL=40] (bO30)
 % ===== C =====
 (cE1) edge[BL=40] (cP1) (cE2) edge[BL=35] (cP1) (cE3) edge[BL=30] (cP1)
 (cP1) edge[BR=20] (cO3) (cP1) edge[BR=25] (cO1) (cP1) edge[BR=30] (cM1) (cP1) edge[BR=20] (cO2)
 (cO3) edge[BR=20] (cO2) (cO3) edge[BR=30] (cEtp) (cO1) edge[BR=30] (cEno) (cO2) edge[BR=35] (cEno)
 (cO1) edge[BR=15] (cEtp) (cO2) edge (cEtp) (cO1) edge[BL=20] (cO4) (cEtp) edge[BR=20] (cEno) (cM1) edge[BR=25] (cEno)
 (cEno) edge[BL=15] (cO5) (cEno) edge[BL=15] (cC1) (cEno) edge[BL=10] (cY1)
 (cEno) edge[BL=40] (cB1)
 (cO4) edge[BR=20] (cEtn) (cO4) edge[BR=25] (cEdo) (cY1) edge (cEtn) (cO5) edge[BL=30] (cC2) (cY1) edge[BL=20] (cC2)
 (cO5) edge (cC1) (cC1) edge[BR=20] (cC2) (cEtn) edge[BR=30] (cC2) (cEdo) edge[BR=30] (cC1) (cO4) edge[BR=20] (cC1)
 (cC2) edge[BR=40] (cT1) (cC2) edge[BR=45] (cC3) (cC2) edge[BR=40] (cO6)
 (cC3) edge[BL=30] (cO7) (cT1) edge[BL=30] (cO7) (cO6) edge[BL=25] (cO7) (cT1) edge[BL=35] (cO10)
 (cO7) edge (cO10) (cO7) edge (cO11) (cO7) edge (cP2) (cO7) edge[BR=10] (cC6) (cB1) edge (cC4) (cB1) edge (cP2)
 (cB1) edge (cO8) (cO7) edge[BL=20] (cC4) (cO9) edge (cBig) (cP3) edge (cBig) (cC6) edge[BR=10] (cBig) (cB2) edge[BL=10] (cBig)
 (cO10) edge[BR=20] (cBig) (cO11) edge[BR=20] (cBig)
 (cBig) edge (cC7) (cBig) edge[BL=10] (cO13) (cBig) edge[BR=10] (cY2) (cO12) edge (cC8) (cO12) edge (cP6) (cBig) edge[BR=20] (cP6)
 (cEph) edge[BL=30] (cO14) (cEph) edge (cP4) (cEph) edge[BR=10] (cO13) (cO14) edge[BR=50] (cEco)
 (cEfl) edge (cP5) (cEfl) edge (cC7) (cEfl) edge (cP6) (cO14) edge[BR=10] (cC8) (cO14) edge (cP4)
 (cP7) edge (cO15) (cO15) edge (cP8) (cP7) edge[BL=40] (cP8) (cT2) edge[BL=30] (cO16) (cM2) edge[BL=10] (cLu) (cM3) edge[BR=10] (cO17)
 ;
\end{pgfonlayer}
\end{tikzpicture}
\end{document}
